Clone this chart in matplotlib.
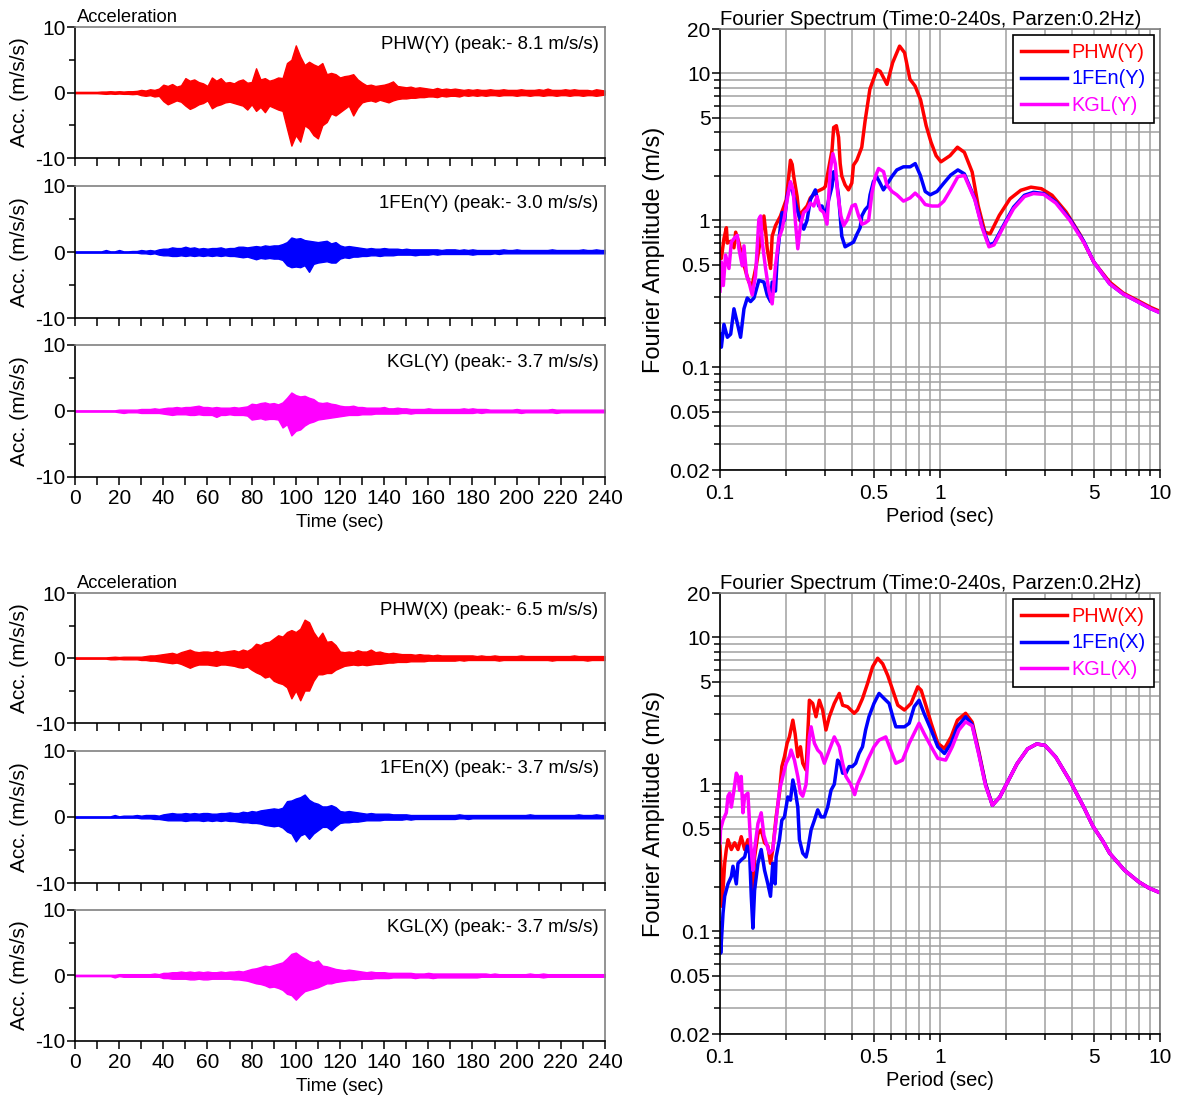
import matplotlib
matplotlib.use("Agg")
import matplotlib.pyplot as plt
from matplotlib.ticker import NullFormatter

plt.rcParams['font.family'] = ['Liberation Sans', 'DejaVu Sans']
plt.rcParams['axes.unicode_minus'] = False

# ---------------- time histories: 2-s envelope (upper / lower) --------------
time = list(range(0, 242, 2))   # 0..240 s, 121 bins

phw_y_hi = [0.1, 0.1, 0.1, 0.1, 0.1,  0.1, 0.15, 0.15, 0.2, 0.15,
            0.2, 0.15, 0.2, 0.2, 0.25,  0.4, 0.3, 0.5, 0.4, 0.6,
            1.2, 1.0, 1.3, 0.9, 1.1,  2.2, 1.8, 2.0, 1.6, 1.4,
            1.0, 2.3, 1.8, 2.2, 1.5,  1.6, 1.4, 1.8, 2.0, 1.5,
            1.6, 3.7, 2.0, 2.2, 1.8,  2.0, 2.3, 2.2, 4.5, 5.0,
            7.2, 5.5, 4.2, 4.7, 4.3,  4.0, 4.5, 2.8, 3.0, 2.8,
            2.3, 2.5, 2.6, 2.8, 2.0,  1.5, 1.1, 1.2, 1.0, 1.1,
            1.2, 1.4, 1.7, 1.0, 0.9,  0.8, 0.9, 0.7, 0.8, 0.7,
            0.6, 0.5, 0.7, 0.5, 0.6,  0.5, 0.6, 0.5, 0.4, 0.5,
            0.4, 0.5, 0.4, 0.4, 0.5,  0.4, 0.4, 0.5, 0.4, 0.4,
            0.4, 0.5, 0.4, 0.4, 0.4,  0.5, 0.4, 0.6, 0.4, 0.4,
            0.4, 0.5, 0.4, 0.5, 0.4,  0.4, 0.4, 0.3, 0.5, 0.4,
            0.3]
phw_y_lo = [-0.1, -0.1, -0.1, -0.1, -0.1,  -0.1, -0.15, -0.2, -0.15, -0.2,
            -0.15, -0.2, -0.2, -0.25, -0.2,  -0.4, -0.5, -0.4, -0.6, -0.5,
            -1.3, -1.8, -1.5, -1.2, -1.4,  -2.0, -2.5, -2.2, -1.8, -1.6,
            -1.2, -2.4, -2.0, -1.8, -1.5,  -1.4, -1.6, -1.8, -2.0, -2.6,
            -1.8, -2.8, -2.2, -3.0, -2.0,  -2.3, -2.6, -2.8, -5.5, -8.1,
            -6.5, -7.5, -5.0, -5.5, -6.5,  -7.0, -5.0, -4.5, -3.2, -3.5,
            -3.0, -2.5, -2.0, -3.5, -2.3,  -1.5, -1.3, -1.2, -1.4, -1.1,
            -1.3, -1.5, -1.2, -1.0, -0.9,  -0.9, -0.8, -0.8, -0.7, -0.7,
            -0.6, -0.6, -0.7, -0.5, -0.6,  -0.5, -0.5, -0.6, -0.4, -0.5,
            -0.4, -0.5, -0.4, -0.5, -0.4,  -0.4, -0.5, -0.4, -0.4, -0.4,
            -0.5, -0.4, -0.4, -0.5, -0.4,  -0.4, -0.5, -0.4, -0.4, -0.5,
            -0.4, -0.4, -0.5, -0.4, -0.4,  -0.5, -0.4, -0.4, -0.5, -0.4,
            -0.3]

fen_y_hi = [0.1, 0.1, 0.1, 0.1, 0.1,  0.1, 0.1, 0.3, 0.1, 0.1,
            0.3, 0.1, 0.1, 0.15, 0.15,  0.3, 0.2, 0.3, 0.2, 0.4,
            0.5, 0.5, 0.7, 0.6, 0.6,  0.8, 0.6, 0.7, 0.5, 0.6,
            0.5, 0.6, 0.6, 0.7, 0.5,  0.6, 0.6, 0.8, 0.8, 0.7,
            0.8, 0.9, 0.8, 1.0, 0.9,  1.0, 1.0, 1.2, 1.5, 2.2,
            2.0, 2.1, 1.8, 1.7, 1.6,  1.5, 1.6, 1.7, 1.3, 1.5,
            1.0, 0.8, 0.9, 0.8, 0.7,  0.6, 0.5, 0.6, 0.5, 0.5,
            0.6, 0.5, 0.5, 0.5, 0.4,  0.5, 0.4, 0.4, 0.4, 0.4,
            0.4, 0.4, 0.4, 0.3, 0.4,  0.4, 0.4, 0.3, 0.4, 0.3,
            0.4, 0.3, 0.3, 0.3, 0.3,  0.3, 0.3, 0.4, 0.3, 0.3,
            0.4, 0.3, 0.3, 0.3, 0.3,  0.3, 0.3, 0.3, 0.4, 0.3,
            0.3, 0.3, 0.3, 0.3, 0.3,  0.4, 0.3, 0.3, 0.4, 0.3,
            0.3]
fen_y_lo = [-0.1, -0.1, -0.1, -0.1, -0.1,  -0.1, -0.1, -0.1, -0.1, -0.1,
            -0.1, -0.1, -0.1, -0.1, -0.1,  -0.2, -0.2, -0.3, -0.2, -0.4,
            -0.5, -0.5, -0.6, -0.6, -0.5,  -0.6, -0.5, -0.6, -0.5, -0.6,
            -0.5, -0.6, -0.5, -0.6, -0.5,  -0.6, -0.6, -0.7, -0.8, -0.7,
            -0.9, -1.1, -0.9, -1.0, -0.9,  -1.0, -1.0, -1.2, -2.0, -2.3,
            -2.2, -2.3, -2.0, -3.0, -1.8,  -1.6, -1.5, -1.4, -1.6, -1.6,
            -1.0, -0.8, -0.9, -0.7, -0.7,  -0.6, -0.6, -0.5, -0.5, -0.6,
            -0.5, -0.5, -0.5, -0.4, -0.4,  -0.4, -0.4, -0.5, -0.4, -0.4,
            -0.4, -0.3, -0.4, -0.3, -0.3,  -0.3, -0.3, -0.3, -0.3, -0.3,
            -0.4, -0.3, -0.3, -0.3, -0.3,  -0.2, -0.3, -0.2, -0.2, -0.2,
            -0.2, -0.2, -0.2, -0.2, -0.2,  -0.2, -0.2, -0.2, -0.2, -0.2,
            -0.2, -0.2, -0.2, -0.2, -0.2,  -0.2, -0.2, -0.2, -0.2, -0.2,
            -0.2]

kgl_y_hi = [0.1, 0.1, 0.1, 0.1, 0.1,  0.1, 0.1, 0.1, 0.1, 0.1,
            0.2, 0.2, 0.2, 0.2, 0.2,  0.3, 0.3, 0.3, 0.4, 0.3,
            0.4, 0.5, 0.5, 0.6, 0.5,  0.6, 0.6, 0.7, 0.8, 0.6,
            0.6, 0.5, 0.6, 0.5, 0.5,  0.5, 0.6, 0.5, 0.6, 0.7,
            1.1, 1.0, 1.2, 1.3, 1.1,  1.2, 1.0, 1.3, 2.0, 2.8,
            2.4, 2.2, 2.3, 2.0, 1.8,  1.3, 1.2, 1.3, 1.1, 1.0,
            0.8, 0.7, 0.7, 0.8, 0.6,  0.6, 0.5, 0.5, 0.5, 0.5,
            0.6, 0.4, 0.4, 0.5, 0.4,  0.4, 0.3, 0.3, 0.3, 0.3,
            0.4, 0.3, 0.3, 0.3, 0.3,  0.3, 0.3, 0.3, 0.4, 0.3,
            0.4, 0.3, 0.3, 0.3, 0.2,  0.2, 0.2, 0.2, 0.2, 0.2,
            0.3, 0.2, 0.2, 0.2, 0.2,  0.2, 0.2, 0.2, 0.3, 0.2,
            0.2, 0.2, 0.2, 0.2, 0.2,  0.2, 0.2, 0.2, 0.2, 0.2,
            0.2]
kgl_y_lo = [-0.1, -0.1, -0.1, -0.1, -0.1,  -0.1, -0.1, -0.1, -0.1, -0.1,
            -0.2, -0.3, -0.2, -0.2, -0.2,  -0.3, -0.3, -0.3, -0.3, -0.3,
            -0.4, -0.5, -0.6, -0.5, -0.5,  -0.5, -0.6, -0.6, -0.5, -0.6,
            -0.6, -0.6, -0.9, -0.6, -0.6,  -0.5, -0.6, -0.6, -0.6, -0.7,
            -1.3, -1.2, -1.1, -1.3, -1.2,  -1.2, -1.3, -2.5, -2.0, -3.7,
            -3.0, -2.8, -2.2, -1.8, -1.6,  -1.3, -1.2, -1.1, -1.0, -0.9,
            -0.8, -0.7, -0.6, -0.6, -0.6,  -0.5, -0.5, -0.5, -0.4, -0.4,
            -0.4, -0.4, -0.4, -0.4, -0.3,  -0.3, -0.4, -0.3, -0.3, -0.3,
            -0.3, -0.3, -0.3, -0.3, -0.3,  -0.3, -0.3, -0.3, -0.3, -0.3,
            -0.3, -0.2, -0.3, -0.2, -0.2,  -0.2, -0.2, -0.2, -0.2, -0.2,
            -0.2, -0.3, -0.2, -0.2, -0.2,  -0.2, -0.2, -0.2, -0.2, -0.3,
            -0.2, -0.2, -0.2, -0.2, -0.2,  -0.2, -0.2, -0.2, -0.2, -0.2,
            -0.2]

phw_x_hi = [0.1, 0.1, 0.1, 0.1, 0.1,  0.1, 0.1, 0.1, 0.15, 0.2,
            0.15, 0.2, 0.2, 0.2, 0.2,  0.2, 0.3, 0.4, 0.4, 0.5,
            0.6, 0.7, 0.8, 0.6, 0.9,  1.1, 1.3, 1.0, 0.9, 1.0,
            1.0, 0.9, 1.1, 0.9, 1.0,  1.1, 1.2, 1.0, 1.3, 1.1,
            1.5, 2.2, 2.0, 2.4, 2.5,  3.0, 3.5, 3.3, 4.0, 4.3,
            4.0, 4.5, 5.9, 5.5, 4.0,  3.0, 3.9, 2.5, 2.6, 2.0,
            1.0, 0.9, 1.0, 0.9, 1.2,  1.0, 1.0, 1.3, 0.9, 1.0,
            0.8, 0.7, 0.8, 0.7, 0.6,  0.6, 0.6, 0.5, 0.6, 0.5,
            0.5, 0.4, 0.5, 0.4, 0.4,  0.4, 0.4, 0.4, 0.4, 0.4,
            0.4, 0.3, 0.4, 0.3, 0.3,  0.4, 0.3, 0.3, 0.3, 0.3,
            0.3, 0.4, 0.3, 0.3, 0.3,  0.3, 0.3, 0.3, 0.3, 0.3,
            0.3, 0.3, 0.3, 0.4, 0.3,  0.3, 0.3, 0.3, 0.3, 0.3,
            0.3]
phw_x_lo = [-0.1, -0.1, -0.1, -0.1, -0.1,  -0.1, -0.1, -0.1, -0.2, -0.2,
            -0.15, -0.2, -0.2, -0.2, -0.2,  -0.3, -0.3, -0.4, -0.4, -0.5,
            -0.6, -0.7, -0.8, -0.7, -0.9,  -1.2, -1.5, -1.2, -1.0, -1.0,
            -1.0, -1.1, -1.2, -1.0, -1.0,  -1.1, -1.2, -1.4, -1.5, -1.3,
            -1.8, -2.2, -2.5, -3.0, -2.8,  -3.5, -3.8, -4.0, -4.5, -6.2,
            -5.0, -6.5, -5.0, -5.0, -3.5,  -2.5, -2.5, -2.3, -2.3, -1.8,
            -1.5, -1.2, -1.1, -1.0, -1.1,  -1.0, -1.1, -1.0, -0.9, -0.9,
            -0.8, -0.7, -0.7, -0.6, -0.6,  -0.6, -0.5, -0.5, -0.5, -0.5,
            -0.4, -0.4, -0.4, -0.4, -0.4,  -0.4, -0.4, -0.3, -0.4, -0.3,
            -0.3, -0.3, -0.3, -0.3, -0.3,  -0.3, -0.4, -0.3, -0.3, -0.3,
            -0.3, -0.3, -0.3, -0.3, -0.3,  -0.3, -0.3, -0.3, -0.4, -0.3,
            -0.3, -0.3, -0.3, -0.3, -0.3,  -0.3, -0.4, -0.3, -0.3, -0.3,
            -0.3]

fen_x_hi = [0.1, 0.1, 0.1, 0.1, 0.1,  0.1, 0.1, 0.1, 0.1, 0.3,
            0.1, 0.2, 0.2, 0.2, 0.3,  0.2, 0.3, 0.3, 0.3, 0.2,
            0.4, 0.5, 0.6, 0.5, 0.5,  0.6, 0.5, 0.6, 0.5, 0.6,
            0.6, 0.5, 0.5, 0.6, 0.6,  0.7, 0.6, 0.6, 0.8, 0.7,
            0.9, 0.8, 1.0, 1.1, 1.2,  1.3, 1.2, 1.4, 2.4, 2.5,
            2.8, 3.0, 3.4, 2.6, 2.2,  2.0, 1.6, 1.6, 1.8, 1.5,
            0.9, 0.8, 0.9, 0.8, 0.7,  0.6, 0.5, 0.6, 0.5, 0.5,
            0.5, 0.5, 0.4, 0.4, 0.4,  0.4, 0.3, 0.3, 0.3, 0.3,
            0.3, 0.3, 0.3, 0.3, 0.3,  0.3, 0.3, 0.4, 0.3, 0.3,
            0.3, 0.3, 0.3, 0.3, 0.3,  0.3, 0.3, 0.3, 0.3, 0.3,
            0.3, 0.3, 0.3, 0.4, 0.3,  0.3, 0.3, 0.3, 0.3, 0.3,
            0.3, 0.3, 0.3, 0.3, 0.4,  0.3, 0.3, 0.3, 0.4, 0.3,
            0.3]
fen_x_lo = [-0.1, -0.1, -0.1, -0.1, -0.1,  -0.1, -0.1, -0.1, -0.1, -0.1,
            -0.1, -0.1, -0.1, -0.1, -0.1,  -0.2, -0.2, -0.2, -0.3, -0.3,
            -0.4, -0.5, -0.5, -0.5, -0.5,  -0.6, -0.5, -0.5, -0.5, -0.6,
            -0.5, -0.6, -0.5, -0.6, -0.5,  -0.6, -0.6, -0.7, -0.8, -0.8,
            -0.9, -0.9, -1.0, -1.2, -1.3,  -1.4, -1.3, -1.6, -2.2, -2.5,
            -3.7, -2.8, -2.5, -3.3, -2.5,  -2.0, -1.5, -1.5, -2.0, -1.4,
            -0.9, -0.8, -0.8, -0.7, -0.7,  -0.6, -0.5, -0.5, -0.5, -0.5,
            -0.4, -0.4, -0.4, -0.4, -0.4,  -0.3, -0.4, -0.3, -0.3, -0.3,
            -0.3, -0.3, -0.3, -0.3, -0.3,  -0.3, -0.3, -0.2, -0.2, -0.3,
            -0.2, -0.2, -0.2, -0.2, -0.2,  -0.2, -0.2, -0.2, -0.2, -0.2,
            -0.2, -0.2, -0.2, -0.2, -0.2,  -0.2, -0.2, -0.2, -0.2, -0.2,
            -0.2, -0.2, -0.2, -0.2, -0.2,  -0.2, -0.2, -0.2, -0.2, -0.2,
            -0.2]

kgl_x_hi = [0.1, 0.1, 0.1, 0.1, 0.1,  0.1, 0.1, 0.1, 0.1, 0.1,
            0.2, 0.2, 0.2, 0.2, 0.2,  0.2, 0.2, 0.2, 0.3, 0.2,
            0.4, 0.4, 0.5, 0.5, 0.6,  0.5, 0.6, 0.5, 0.6, 0.5,
            0.6, 0.5, 0.5, 0.6, 0.5,  0.6, 0.6, 0.7, 0.6, 0.8,
            1.0, 1.1, 1.3, 1.5, 1.4,  1.6, 1.8, 2.0, 2.6, 3.3,
            3.5, 3.0, 2.6, 2.2, 2.0,  2.3, 1.5, 1.4, 1.2, 1.0,
            0.9, 0.8, 0.9, 0.8, 0.7,  0.6, 0.5, 0.6, 0.5, 0.5,
            0.5, 0.4, 0.4, 0.4, 0.4,  0.4, 0.4, 0.3, 0.3, 0.3,
            0.4, 0.3, 0.3, 0.3, 0.3,  0.3, 0.3, 0.3, 0.3, 0.3,
            0.3, 0.3, 0.3, 0.3, 0.2,  0.3, 0.2, 0.2, 0.2, 0.2,
            0.2, 0.2, 0.2, 0.3, 0.2,  0.2, 0.3, 0.2, 0.2, 0.2,
            0.2, 0.2, 0.2, 0.2, 0.2,  0.2, 0.2, 0.2, 0.2, 0.2,
            0.2]
kgl_x_lo = [-0.1, -0.1, -0.1, -0.1, -0.1,  -0.1, -0.1, -0.1, -0.1, -0.3,
            -0.1, -0.2, -0.2, -0.2, -0.2,  -0.2, -0.2, -0.2, -0.2, -0.2,
            -0.4, -0.4, -0.5, -0.5, -0.5,  -0.5, -0.6, -0.6, -0.5, -0.6,
            -0.6, -0.5, -0.5, -0.5, -0.5,  -0.5, -0.6, -0.6, -0.7, -0.8,
            -1.0, -1.2, -1.3, -1.5, -1.8,  -1.7, -1.9, -2.2, -2.8, -3.0,
            -3.7, -3.0, -2.4, -2.2, -2.0,  -1.8, -1.5, -1.2, -1.2, -1.0,
            -0.9, -0.8, -0.7, -0.7, -0.6,  -0.5, -0.5, -0.5, -0.4, -0.4,
            -0.4, -0.4, -0.3, -0.3, -0.3,  -0.3, -0.3, -0.4, -0.3, -0.3,
            -0.3, -0.4, -0.3, -0.3, -0.3,  -0.3, -0.3, -0.3, -0.3, -0.3,
            -0.3, -0.3, -0.2, -0.2, -0.2,  -0.2, -0.2, -0.2, -0.2, -0.2,
            -0.2, -0.2, -0.2, -0.2, -0.2,  -0.2, -0.3, -0.2, -0.2, -0.2,
            -0.2, -0.2, -0.2, -0.2, -0.2,  -0.2, -0.2, -0.2, -0.2, -0.2,
            -0.2]

# ---------------- Fourier spectra: (period s, amplitude m/s) ----------------
phw_y_spec = [(0.100, 0.61), (0.1014, 0.55), (0.1042, 0.75), (0.1069, 0.89), (0.108, 0.70),
              (0.1118, 0.72), (0.1157, 0.65), (0.1178, 0.83), (0.122, 0.70), (0.1264, 0.55),
              (0.1308, 0.45), (0.1353, 0.38), (0.140, 0.36), (0.1464, 0.50), (0.154, 0.80),
              (0.1583, 1.07), (0.1611, 0.85), (0.1639, 0.64), (0.1697, 0.47), (0.1726, 0.78),
              (0.1787, 0.92), (0.1883, 1.07), (0.200, 1.38), (0.209, 2.56), (0.2128, 2.40),
              (0.2164, 1.98), (0.2241, 1.45), (0.2301, 1.00), (0.235, 1.13), (0.2487, 1.25),
              (0.2575, 1.42), (0.2761, 1.57), (0.2959, 1.65), (0.3012, 1.70), (0.3229, 2.99),
              (0.3285, 4.28), (0.3379, 4.40), (0.3459, 3.67), (0.3517, 2.43), (0.3576, 2.00),
              (0.3703, 1.74), (0.3836, 1.61), (0.3972, 1.79), (0.4042, 2.37), (0.4185, 2.56),
              (0.4409, 3.14), (0.4565, 4.74), (0.48, 7.8), (0.517, 10.6), (0.535, 10.3),
              (0.574, 8.4), (0.609, 11.8), (0.655, 15.3), (0.69, 13.8), (0.73, 9.1),
              (0.77, 8.2), (0.816, 6.6), (0.865, 4.4), (0.91, 3.4), (0.96, 2.75),
              (1.01, 2.5), (1.11, 2.75), (1.2, 3.14), (1.29, 2.9), (1.40, 2.13),
              (1.49, 1.26), (1.6, 0.83), (1.69, 0.81), (1.86, 1.08), (2.08, 1.40),
              (2.33, 1.60), (2.59, 1.68), (2.89, 1.64), (3.23, 1.48), (3.74, 1.14),
              (4.33, 0.80), (5.0, 0.52), (5.9, 0.38), (6.8, 0.32), (7.9, 0.285),
              (9.1, 0.255), (10.0, 0.24)]
fen_y_spec = [(0.100, 0.168), (0.1014, 0.137), (0.1042, 0.196), (0.108, 0.16), (0.1118, 0.168),
              (0.1157, 0.25), (0.1198, 0.20), (0.124, 0.16), (0.1285, 0.25), (0.133, 0.296),
              (0.1377, 0.28), (0.1426, 0.296), (0.1502, 0.39), (0.1583, 0.38), (0.1639, 0.31),
              (0.1697, 0.28), (0.1726, 0.38), (0.1787, 0.33), (0.1818, 0.55), (0.1883, 0.92),
              (0.1916, 1.13), (0.1965, 1.0), (0.2019, 1.45), (0.209, 1.79), (0.2164, 1.45),
              (0.2241, 1.18), (0.232, 1.0), (0.2402, 0.87), (0.2487, 1.0), (0.2575, 1.38),
              (0.2713, 1.61), (0.2809, 1.25), (0.2909, 1.25), (0.3012, 1.07), (0.3118, 1.38),
              (0.3229, 1.7), (0.3286, 2.14), (0.3379, 1.88), (0.3459, 1.45), (0.3517, 1.07),
              (0.3576, 0.78), (0.3703, 0.66), (0.3904, 0.69), (0.4042, 0.71), (0.4185, 0.8),
              (0.4333, 0.89), (0.4409, 1.07), (0.4565, 1.18), (0.4727, 1.25), (0.4809, 1.49),
              (0.498, 1.83), (0.5155, 1.98), (0.534, 1.79), (0.553, 1.61), (0.5725, 1.74),
              (0.6037, 1.98), (0.6363, 2.2), (0.682, 2.31), (0.7319, 2.31), (0.7713, 2.43),
              (0.8128, 2.03), (0.8565, 1.57), (0.9026, 1.49), (0.9693, 1.57), (1.0409, 1.79),
              (1.1178, 2.03), (1.2055, 2.2), (1.29, 2.07), (1.44, 1.4), (1.55, 0.92),
              (1.67, 0.68), (1.76, 0.7), (1.94, 0.92), (2.16, 1.23), (2.42, 1.48),
              (2.66, 1.55), (2.96, 1.52), (3.36, 1.33), (3.89, 1.02), (4.5, 0.72),
              (5.0, 0.52), (5.9, 0.37), (6.8, 0.315), (7.9, 0.28), (9.1, 0.25), (10.0, 0.235)]
kgl_y_spec = [(0.100, 0.33), (0.1014, 0.52), (0.1035, 0.36), (0.106, 0.58), (0.1098, 0.47),
              (0.1126, 0.71), (0.1157, 0.75), (0.1198, 0.79), (0.1219, 0.64), (0.1262, 0.49),
              (0.1285, 0.67), (0.1321, 0.42), (0.1354, 0.38), (0.1401, 0.31), (0.145, 0.42),
              (0.1502, 1.02), (0.1529, 1.07), (0.1556, 0.71), (0.1611, 0.47), (0.1669, 0.33),
              (0.1726, 0.27), (0.1787, 0.49), (0.185, 0.75), (0.1916, 0.87), (0.1965, 1.07),
              (0.2019, 1.38), (0.209, 1.83), (0.2149, 1.61), (0.2202, 0.97), (0.2257, 0.64),
              (0.232, 0.92), (0.2402, 1.13), (0.2487, 1.18), (0.2575, 1.31), (0.2666, 1.25),
              (0.276, 1.45), (0.2858, 1.18), (0.2959, 1.13), (0.3064, 0.94), (0.3173, 2.2),
              (0.3258, 2.84), (0.3341, 2.43), (0.3426, 1.53), (0.3545, 1.07), (0.3649, 0.92),
              (0.3779, 1.0), (0.3981, 1.25), (0.4121, 1.28), (0.4268, 1.07), (0.4418, 0.94),
              (0.4575, 0.96), (0.4737, 1.0), (0.4905, 1.53), (0.5078, 1.98), (0.5258, 2.25),
              (0.5538, 2.14), (0.5734, 1.74), (0.6044, 1.57), (0.6364, 1.49), (0.682, 1.35),
              (0.7316, 1.42), (0.771, 1.53), (0.8128, 1.42), (0.8565, 1.28), (0.918, 1.25),
              (0.984, 1.25), (1.0409, 1.35), (1.117, 1.61), (1.206, 1.98), (1.29, 2.02),
              (1.44, 1.38), (1.55, 0.9), (1.67, 0.66), (1.76, 0.68), (1.94, 0.9),
              (2.16, 1.2), (2.42, 1.45), (2.66, 1.52), (2.96, 1.5), (3.36, 1.31),
              (3.89, 1.0), (4.5, 0.71), (5.0, 0.52), (5.9, 0.37), (6.8, 0.315),
              (7.9, 0.28), (9.1, 0.25), (10.0, 0.235)]

phw_x_spec = [(0.100, 0.38), (0.1007, 0.29), (0.1021, 0.148), (0.105, 0.29), (0.1068, 0.36),
              (0.1087, 0.42), (0.1126, 0.36), (0.1165, 0.40), (0.1207, 0.36), (0.1249, 0.44),
              (0.1294, 0.36), (0.1339, 0.42), (0.1387, 0.29), (0.1411, 0.19), (0.1436, 0.32),
              (0.1487, 0.46), (0.1539, 0.49), (0.1594, 0.40), (0.165, 0.38), (0.1696, 0.29),
              (0.1737, 0.36), (0.1799, 0.6), (0.1863, 0.87), (0.191, 1.32), (0.1963, 1.54),
              (0.2018, 1.9), (0.2067, 2.1), (0.2143, 2.73), (0.2195, 2.2), (0.2257, 1.54),
              (0.232, 1.8), (0.2377, 1.39), (0.2461, 1.25), (0.2548, 3.73), (0.2638, 3.55),
              (0.2731, 2.88), (0.2828, 3.73), (0.2928, 3.2), (0.3031, 2.34), (0.3139, 2.88),
              (0.3307, 3.55), (0.3485, 4.15), (0.3608, 3.45), (0.3801, 3.37), (0.4071, 3.04),
              (0.4214, 3.2), (0.4443, 3.83), (0.4684, 4.85), (0.4938, 6.3), (0.5206, 7.2),
              (0.5488, 6.6), (0.5786, 5.5), (0.61, 4.36), (0.643, 3.45), (0.689, 3.2),
              (0.7387, 3.55), (0.792, 4.6), (0.8212, 4.36), (0.866, 3.37), (0.9115, 2.6),
              (0.977, 1.9), (1.0475, 1.75), (1.123, 2.1), (1.2, 2.73), (1.307, 3.04),
              (1.40, 2.65), (1.5, 1.68), (1.61, 1.01), (1.73, 0.72), (1.87, 0.82),
              (2.01, 1.01), (2.24, 1.38), (2.5, 1.74), (2.75, 1.88), (3.0, 1.84),
              (3.36, 1.53), (3.89, 1.06), (4.5, 0.70), (4.95, 0.52), (5.5, 0.41),
              (5.9, 0.34), (6.9, 0.26), (8.0, 0.217), (8.9, 0.197), (10.0, 0.183)]
fen_x_spec = [(0.100, 0.114), (0.1007, 0.071), (0.1032, 0.133), (0.105, 0.173), (0.1087, 0.21),
              (0.1126, 0.236), (0.1145, 0.277), (0.1186, 0.21), (0.1207, 0.29), (0.1249, 0.306),
              (0.1294, 0.32), (0.133, 0.38), (0.1363, 0.34), (0.1387, 0.173), (0.1411, 0.105),
              (0.1436, 0.19), (0.1487, 0.29), (0.1539, 0.36), (0.1594, 0.26), (0.165, 0.21),
              (0.1696, 0.173), (0.1737, 0.29), (0.1781, 0.21), (0.1799, 0.32), (0.1863, 0.42),
              (0.191, 0.57), (0.1963, 0.6), (0.2033, 0.82), (0.209, 0.78), (0.2143, 1.07),
              (0.2195, 0.91), (0.2257, 0.7), (0.2296, 0.42), (0.2377, 0.34), (0.2461, 0.32),
              (0.2506, 0.36), (0.2594, 0.49), (0.2686, 0.57), (0.278, 0.67), (0.2879, 0.6),
              (0.2981, 0.6), (0.3086, 0.7), (0.3195, 0.91), (0.3307, 1.0), (0.3425, 1.46),
              (0.3521, 1.39), (0.3608, 1.19), (0.3735, 1.19), (0.3863, 1.32), (0.3996, 1.32),
              (0.4137, 1.39), (0.4283, 1.62), (0.4443, 1.8), (0.459, 2.34), (0.4753, 2.88),
              (0.501, 3.55), (0.5283, 4.15), (0.557, 3.83), (0.5869, 3.55), (0.61, 2.88),
              (0.6298, 2.46), (0.689, 2.46), (0.7245, 2.6), (0.763, 3.37), (0.803, 3.73),
              (0.8457, 3.04), (0.9115, 2.34), (0.977, 1.8), (1.0475, 1.62), (1.123, 1.9),
              (1.2, 2.46), (1.307, 2.88), (1.40, 2.55), (1.5, 1.63), (1.61, 1.0),
              (1.73, 0.72), (1.87, 0.82), (2.01, 1.01), (2.24, 1.38), (2.5, 1.74),
              (2.75, 1.88), (3.0, 1.84), (3.36, 1.53), (3.89, 1.06), (4.5, 0.70),
              (4.95, 0.52), (5.5, 0.41), (5.9, 0.34), (6.9, 0.26), (8.0, 0.217),
              (8.9, 0.197), (10.0, 0.183)]
kgl_x_spec = [(0.100, 0.40), (0.1005, 0.49), (0.1032, 0.57), (0.1068, 0.64), (0.1087, 0.83),
              (0.1106, 0.87), (0.1126, 0.70), (0.1157, 0.91), (0.1186, 1.19), (0.1207, 1.13),
              (0.1228, 0.91), (0.1249, 1.13), (0.1271, 0.64), (0.1294, 0.83), (0.1339, 0.87),
              (0.1377, 0.40), (0.1411, 0.26), (0.1436, 0.36), (0.1487, 0.54), (0.1539, 0.64),
              (0.1583, 0.45), (0.1621, 0.40), (0.1679, 0.34), (0.1738, 0.36), (0.1799, 0.57),
              (0.1863, 0.91), (0.193, 1.13), (0.1998, 1.39), (0.2067, 1.54), (0.2104, 1.71),
              (0.2179, 1.46), (0.2257, 1.13), (0.232, 0.87), (0.2377, 0.83), (0.2461, 1.0),
              (0.2548, 2.1), (0.2594, 2.46), (0.2686, 1.9), (0.278, 1.71), (0.2879, 1.62),
              (0.2981, 1.39), (0.3139, 1.71), (0.3307, 2.1), (0.3485, 1.8), (0.3608, 1.39),
              (0.3735, 1.13), (0.3928, 1.0), (0.4094, 0.85), (0.4214, 1.0), (0.4443, 1.19),
              (0.4684, 1.46), (0.501, 1.8), (0.5283, 2.0), (0.5668, 2.1), (0.5971, 1.71),
              (0.6298, 1.39), (0.6755, 1.46), (0.7245, 1.9), (0.803, 2.6), (0.8457, 2.22),
              (0.9115, 1.8), (0.977, 1.5), (1.0605, 1.46), (1.137, 1.8), (1.2185, 2.34),
              (1.307, 2.66), (1.40, 2.5), (1.5, 1.6), (1.61, 0.98), (1.73, 0.72),
              (1.87, 0.82), (2.01, 1.01), (2.24, 1.38), (2.5, 1.74), (2.75, 1.88),
              (3.0, 1.84), (3.36, 1.53), (3.89, 1.06), (4.5, 0.70), (4.95, 0.52),
              (5.5, 0.41), (5.9, 0.34), (6.9, 0.26), (8.0, 0.217), (8.9, 0.197), (10.0, 0.183)]

RED, BLUE, MAG = '#ff0000', '#0000ff', '#ff00ff'

fig = plt.figure(figsize=(11.79, 10.99), dpi=100)


def style_spines(ax):
    ax.spines['left'].set_color('black')
    ax.spines['bottom'].set_color('black')
    ax.spines['top'].set_color('#808080')
    ax.spines['right'].set_color('#808080')
    for s in ax.spines.values():
        s.set_linewidth(1.2)


def time_panel(rect, hi, lo, color, label, bottom=False, top=False):
    ax = fig.add_axes(rect)
    ax.fill_between(time, lo, hi, color=color, lw=1.0)
    ax.set_xlim(0, 240)
    ax.set_ylim(-10, 10)
    ax.set_xticks(range(0, 241, 20))
    ax.set_xticks(range(10, 240, 20), minor=True)
    ax.set_yticks([-10, 0, 10])
    ax.set_yticks([-5, 5], minor=True)
    ax.tick_params(axis='both', which='both', direction='out', width=1.1,
                   labelsize=15, pad=1)
    ax.tick_params(axis='x', which='both', length=6, pad=3)
    ax.tick_params(axis='y', which='major', length=6)
    ax.tick_params(axis='y', which='minor', length=4)
    if not bottom:
        ax.tick_params(axis='x', labelbottom=False)
    else:
        ax.set_xlabel('Time (sec)', fontsize=13.5, labelpad=4)
    ax.set_ylabel('Acc. (m/s/s)', fontsize=15, labelpad=4)
    ax.text(0.988, 0.865, label, transform=ax.transAxes, ha='right', va='center',
            fontsize=13.4)
    if top:
        ax.text(0.004, 1.005, 'Acceleration', transform=ax.transAxes, ha='left',
                va='bottom', fontsize=13.2)
    style_spines(ax)
    return ax


def spec_panel(rect, curves):
    ax = fig.add_axes(rect)
    for pts, color, name in curves:
        T, A = zip(*pts)
        ax.plot(T, A, color=color, lw=2.5, label=name)
    ax.set_xscale('log')
    ax.set_yscale('log')
    ax.set_xlim(0.1, 10)
    ax.set_ylim(0.02, 20)
    ax.set_xticks([0.1, 0.5, 1, 5, 10])
    ax.set_xticklabels(['0.1', '0.5', '1', '5', '10'])
    ax.set_xticks([0.2, 0.3, 0.4, 0.6, 0.7, 0.8, 0.9, 2, 3, 4, 6, 7, 8, 9], minor=True)
    ax.set_yticks([0.02, 0.05, 0.1, 0.5, 1, 5, 10, 20])
    ax.set_yticklabels(['0.02', '0.05', '0.1', '0.5', '1', '5', '10', '20'])
    ax.set_yticks([0.03, 0.04, 0.06, 0.07, 0.08, 0.09, 0.2, 0.3, 0.4, 0.6, 0.7, 0.8,
                   0.9, 2, 3, 4, 6, 7, 8, 9], minor=True)
    ax.xaxis.set_minor_formatter(NullFormatter())
    ax.yaxis.set_minor_formatter(NullFormatter())
    ax.grid(True, which='both', color='#a0a0a0', lw=1.1)
    ax.set_axisbelow(True)
    ax.tick_params(axis='both', which='both', direction='out', width=1.1,
                   labelsize=15, pad=1)
    ax.tick_params(axis='x', which='both', pad=4)
    ax.tick_params(which='major', length=6)
    ax.tick_params(which='minor', length=4)
    ax.set_xlabel('Period (sec)', fontsize=14.4, labelpad=3)
    ax.set_ylabel('Fourier Amplitude (m/s)', fontsize=17, labelpad=3)
    ax.set_title('Fourier Spectrum (Time:0-240s, Parzen:0.2Hz)', fontsize=14.6,
                 pad=1, loc='left')
    leg = ax.legend(loc='upper right', fontsize=14.3, frameon=True, fancybox=False,
                    edgecolor='black', framealpha=1, handlelength=2.3,
                    handletextpad=0.25, borderaxespad=0.3, labelspacing=0.38,
                    borderpad=0.4)
    leg.get_frame().set_linewidth(1.2)
    for txt, (_, color, _) in zip(leg.get_texts(), curves):
        txt.set_color(color)
    style_spines(ax)
    return ax


L, W = 0.0636, 0.4495
time_panel([L, 0.8562, W, 0.1192], phw_y_hi, phw_y_lo, RED,
           'PHW(Y) (peak:- 8.1 m/s/s)', top=True)
time_panel([L, 0.7106, W, 0.1202], fen_y_hi, fen_y_lo, BLUE,
           '1FEn(Y) (peak:- 3.0 m/s/s)')
time_panel([L, 0.5660, W, 0.1201], kgl_y_hi, kgl_y_lo, MAG,
           'KGL(Y) (peak:- 3.7 m/s/s)', bottom=True)
time_panel([L, 0.3421, W, 0.1183], phw_x_hi, phw_x_lo, RED,
           'PHW(X) (peak:- 6.5 m/s/s)', top=True)
time_panel([L, 0.1965, W, 0.1202], fen_x_hi, fen_x_lo, BLUE,
           '1FEn(X) (peak:- 3.7 m/s/s)')
time_panel([L, 0.0528, W, 0.1192], kgl_x_hi, kgl_x_lo, MAG,
           'KGL(X) (peak:- 3.7 m/s/s)', bottom=True)

SL, SW = 0.6107, 0.3732
spec_panel([SL, 0.5723, SW, 0.4013],
           [(phw_y_spec, RED, 'PHW(Y)'), (fen_y_spec, BLUE, '1FEn(Y)'),
            (kgl_y_spec, MAG, 'KGL(Y)')])
spec_panel([SL, 0.0591, SW, 0.4013],
           [(phw_x_spec, RED, 'PHW(X)'), (fen_x_spec, BLUE, '1FEn(X)'),
            (kgl_x_spec, MAG, 'KGL(X)')])

fig.savefig('out.png', dpi=100)
